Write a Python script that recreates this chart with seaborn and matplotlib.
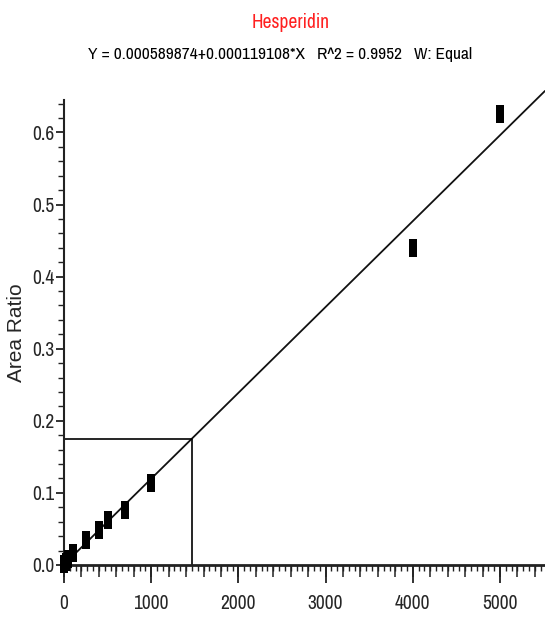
import numpy as np
import pandas as pd
import matplotlib
matplotlib.use("Agg")
import matplotlib.pyplot as plt
import seaborn as sns
from matplotlib.ticker import MultipleLocator, NullFormatter, FormatStrFormatter

sns.set_theme(style="white")
plt.rcParams['font.family'] = ['Archivo Narrow', 'DejaVu Sans']

# calibration standards
conc = [0, 25, 50, 100, 250, 400, 500, 700, 1000, 4000, 5000]
area_ratio = [0.001, 0.004, 0.008, 0.016, 0.034, 0.048, 0.062, 0.076, 0.114, 0.440, 0.626]

# fit from the header
intercept = 0.000589874
slope = 0.000119108
r2 = 0.9952
fit_x = [0, 5516]
query_x = 1468

df = pd.DataFrame({'conc': conc, 'ratio': area_ratio})

fig = plt.figure(figsize=(5.45, 6.21), dpi=100)
ax = fig.add_axes([64 / 545, 1 - 565 / 621, 481 / 545, 465 / 621])

fit_y = [intercept + slope * v for v in fit_x]
ax.plot(fit_x, fit_y, color='#111111', lw=1.3, zorder=2, clip_on=False)

qy = intercept + slope * query_x
ax.plot([0, query_x, query_x], [qy, qy, 0], color='black', lw=1.2, zorder=2)

rect = [(-4, -8), (4, -8), (4, 8), (-4, 8)]
sns.scatterplot(data=df, x='conc', y='ratio', ax=ax, marker=rect, s=160,
                color='black', edgecolor='black', linewidth=0, zorder=3,
                clip_on=False, legend=False)

ax.set_xlim(0, 5516)
ax.set_ylim(0, 0.645)

for side in ['top', 'right']:
    ax.spines[side].set_visible(False)
ax.spines['bottom'].set_linewidth(2)
ax.spines['left'].set_linewidth(1.5)
ax.spines['bottom'].set_color('#222222')
ax.spines['left'].set_color('#222222')

ax.xaxis.set_major_locator(MultipleLocator(1000))
ax.xaxis.set_minor_locator(MultipleLocator(1000 / 15))
ax.yaxis.set_major_locator(MultipleLocator(0.1))
ax.yaxis.set_minor_locator(MultipleLocator(0.02))
ax.yaxis.set_major_formatter(FormatStrFormatter('%.1f'))

ax.tick_params(axis='x', which='major', direction='out', length=13, width=1.3,
               bottom=True, labelsize=14, pad=8, color='#222222')
ax.tick_params(axis='x', which='minor', direction='out', length=4.5, width=1,
               bottom=True, color='#222222')
ax.tick_params(axis='y', which='major', direction='out', length=6, width=1.3,
               left=True, labelsize=14, pad=1, color='#222222')
ax.tick_params(axis='y', which='minor', direction='out', length=4, width=1,
               left=True, color='#222222')

# medium ticks every 200
sec = ax.secondary_xaxis('bottom')
sec.set_xticks(np.arange(0, 5600, 200))
sec.xaxis.set_major_formatter(NullFormatter())
sec.tick_params(axis='x', direction='out', length=8.5, width=1.1, color='#222222')
sec.spines['bottom'].set_visible(False)

ax.set_xlabel('')
ax.set_ylabel('Area Ratio', fontsize=15, family=['Liberation Sans', 'DejaVu Sans'],
              labelpad=4)

fig.text(291 / 545, 1 - 22 / 621, 'Hesperidin', color='#ff2020', fontsize=14,
         ha='center', va='center')
fig.text(280 / 545, 1 - 55 / 621,
         f'Y = {intercept:.9f}+{slope:.9f}*X   R^2 = {r2}   W: Equal',
         color='black', fontsize=12.5, ha='center', va='center')

fig.savefig('out.png', dpi=100)
